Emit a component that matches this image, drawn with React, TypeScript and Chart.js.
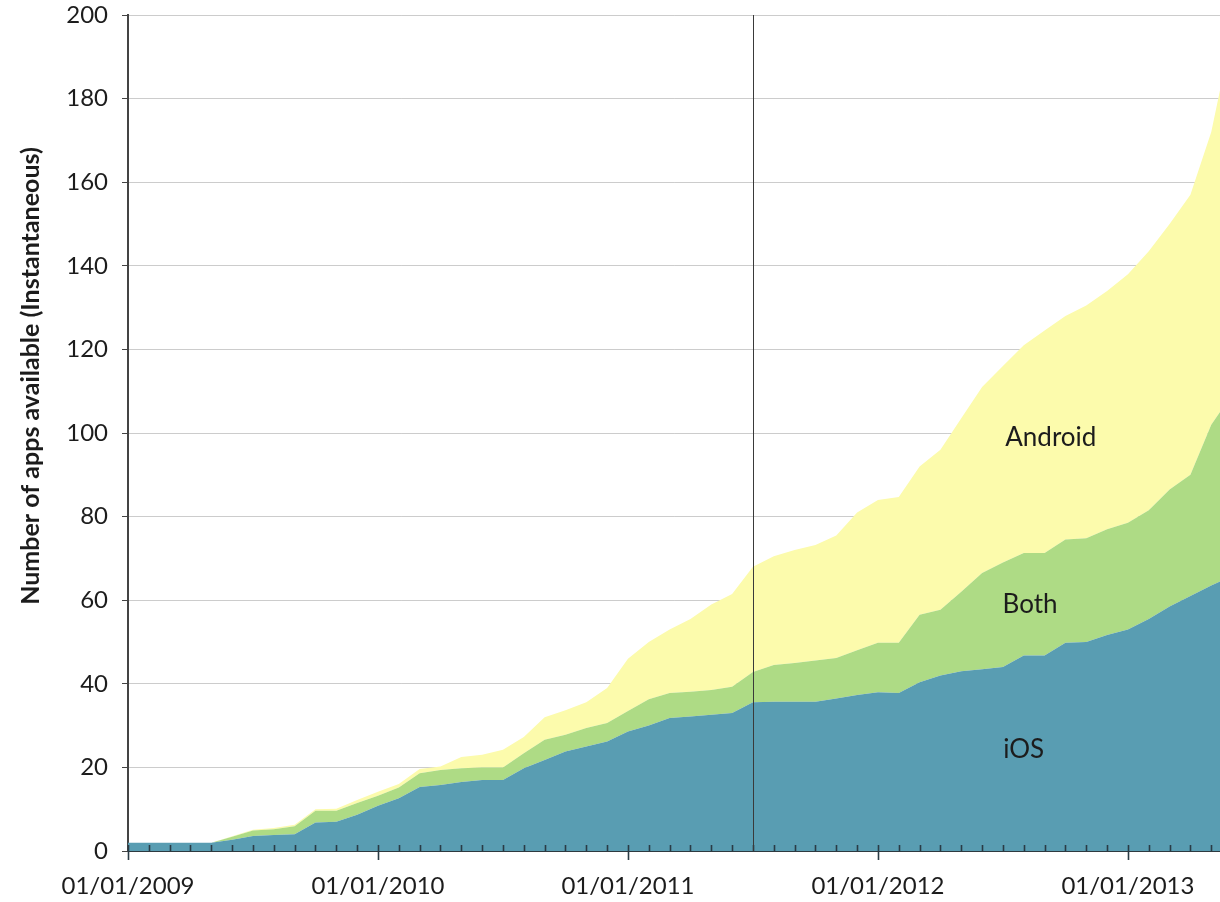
import React, { useEffect, useRef } from 'react';
import { Chart, registerables } from 'chart.js';

Chart.register(...registerables);

// Month index: 0 = Jan 2009
const months = [
  0, 1, 2, 3, 4, 5, 6, 7, 8, 9, 10, 11, 12, 13, 14, 15, 16, 17, 18, 19, 20,
  21, 22, 23, 24, 25, 26, 27, 28, 29, 30, 31, 32, 33, 34, 35, 36, 37, 38, 39,
  40, 41, 42, 43, 44, 45, 46, 47, 48, 49, 50, 51, 52, 52.42,
];

const iosValues = [
  2, 2, 2, 2, 2, 2.7, 3.6, 3.8, 4.0, 6.8, 7.0, 8.7, 10.8, 12.6, 15.3, 15.8,
  16.5, 17, 17, 19.8, 21.8, 23.8, 25, 26.2, 28.6, 30, 31.8, 32.2, 32.6, 33,
  35.6, 35.7, 35.7, 35.7, 36.5, 37.3, 38, 37.8, 40.4, 42, 43, 43.5, 44, 46.8,
  46.8, 49.8, 50, 51.7, 53, 55.5, 58.5, 61, 63.5, 64.5,
];

const bothValues = [
  0, 0, 0, 0, 0, 0.7, 1.3, 1.4, 1.9, 2.8, 2.6, 2.8, 2.4, 2.6, 3.3, 3.6, 3.3,
  3.0, 3.0, 3.6, 4.8, 4.0, 4.4, 4.4, 4.9, 6.3, 6.0, 5.9, 5.9, 6.3, 7.2, 8.8,
  9.3, 9.9, 9.7, 10.7, 11.8, 12, 16.1, 15.7, 19, 23, 25, 24.5, 24.5, 24.7,
  24.8, 25.3, 25.5, 26, 28, 29, 38.5, 40.5,
];

const androidValues = [
  0, 0, 0, 0, 0, 0.1, 0.2, 0.3, 0.4, 0.4, 0.5, 0.7, 1.0, 0.8, 1.0, 0.8, 2.7,
  3.0, 4.2, 3.9, 5.4, 5.9, 6.2, 8.4, 12.5, 13.7, 15.2, 17.4, 20.5, 22.2, 25.2,
  26, 27, 27.6, 29.3, 33, 34.2, 34.9, 35.5, 38.3, 41.5, 44.5, 47, 49.7, 53.2,
  53.5, 55.7, 57, 59.5, 62, 63.5, 67, 70, 77,
];

const seriesNames = ['iOS', 'Both', 'Android'];
const seriesColors = ['#599DB2', '#AEDB85', '#FCFBAC'];

const xTickMonths = [0, 12, 24, 36, 48];
const xTickLabels = ['01/01/2009', '01/01/2010', '01/01/2011', '01/01/2012', '01/01/2013'];
const markerMonth = 30; // 01/07/2011
const yTitle = 'Number of apps available (Instantaneous)';

const X_MAX = 52.42;
const FONT = 'Lato, "Open Sans", sans-serif';

export default function App() {
  const ref = useRef<HTMLCanvasElement>(null);

  useEffect(() => {
    if (!ref.current) return;
    const toPts = (vals: number[]) => months.map((m, i) => ({ x: m, y: vals[i] }));

    const overlay = {
      id: 'overlay',
      afterDraw(chart: any) {
        const { ctx, chartArea, scales } = chart;
        const xs = scales.x;
        const ys = scales.y;
        ctx.save();
        // minor monthly ticks (inside)
        ctx.strokeStyle = '#2a3b45';
        ctx.lineWidth = 1.6;
        for (let m = 1; m <= Math.floor(X_MAX); m++) {
          if (m % 12 === 0) continue;
          const px = Math.round(xs.getPixelForValue(m)) + 0.5;
          ctx.beginPath();
          ctx.moveTo(px, chartArea.bottom);
          ctx.lineTo(px, chartArea.bottom - 6);
          ctx.stroke();
        }
        // major yearly ticks
        for (const m of xTickMonths) {
          const px = Math.round(xs.getPixelForValue(m)) + 0.5;
          ctx.beginPath();
          ctx.moveTo(px, chartArea.bottom - 6);
          ctx.lineTo(px, chartArea.bottom + 9);
          ctx.stroke();
        }
        // vertical marker line
        const mx = Math.round(xs.getPixelForValue(markerMonth)) + 0.5;
        ctx.strokeStyle = '#3a3a3a';
        ctx.lineWidth = 1;
        ctx.beginPath();
        ctx.moveTo(mx, chartArea.top);
        ctx.lineTo(mx, chartArea.bottom);
        ctx.stroke();

        // series labels
        ctx.fillStyle = '#1c1c1c';
        ctx.font = `26px ${FONT}`;
        ctx.textAlign = 'center';
        ctx.textBaseline = 'middle';
        const labelPos = [
          { x: 43.0, y: 24.2 },
          { x: 43.3, y: 58.9 },
          { x: 44.3, y: 98.8 },
        ];
        seriesNames.forEach((name, i) => {
          ctx.fillText(name, xs.getPixelForValue(labelPos[i].x), ys.getPixelForValue(labelPos[i].y));
        });

        // y-axis title
        ctx.translate(31, 376);
        ctx.rotate(-Math.PI / 2);
        ctx.font = `bold 25px ${FONT}`;
        ctx.fillStyle = '#1c1c1c';
        ctx.fillText(yTitle, 0, 0);
        ctx.restore();
      },
    };

    const chart = new Chart(ref.current, {
      type: 'line',
      data: {
        datasets: [
          { label: seriesNames[0], data: toPts(iosValues), backgroundColor: seriesColors[0], fill: 'origin' },
          { label: seriesNames[1], data: toPts(bothValues), backgroundColor: seriesColors[1], fill: '-1' },
          { label: seriesNames[2], data: toPts(androidValues), backgroundColor: seriesColors[2], fill: '-1' },
        ].map((d) => ({ ...d, borderWidth: 0, pointRadius: 0, tension: 0, borderColor: 'rgba(0,0,0,0)' })),
      },
      options: {
        animation: false,
        responsive: false,
        maintainAspectRatio: false,
        layout: { padding: { top: 15, right: 0, left: 0, bottom: 0 } },
        plugins: { legend: { display: false }, tooltip: { enabled: false } },
        elements: { line: { borderWidth: 0 } },
        scales: {
          x: {
            type: 'linear',
            min: 0,
            max: X_MAX,
            grid: { display: false },
            border: { display: true, color: '#2e3a40', width: 2 },
            afterBuildTicks: (s: any) => {
              s.ticks = xTickMonths.map((v) => ({ value: v }));
            },
            afterFit: (s: any) => {
              s.height = 51;
              s.paddingLeft = 0;
              s.paddingRight = 0;
            },
            ticks: {
              autoSkip: false,
              maxRotation: 0,
              padding: 13,
              color: '#1c1c1c',
              font: { family: FONT, size: 24 },
              callback: (v: any) => {
                const i = xTickMonths.indexOf(Number(v));
                return i >= 0 ? xTickLabels[i] : '';
              },
            },
          },
          y: {
            stacked: true,
            min: 0,
            max: 200,
            z: 1,
            grid: {
              color: 'rgba(0,0,0,0.2)',
              lineWidth: 1,
              drawTicks: true,
              tickLength: 6,
              tickColor: '#444',
            },
            border: { display: true, color: '#444', width: 2 },
            afterFit: (s: any) => {
              s.width = 128;
              s.paddingTop = 0;
              s.paddingBottom = 0;
            },
            ticks: {
              stepSize: 20,
              padding: 14,
              color: '#1c1c1c',
              font: { family: FONT, size: 24 },
            },
          },
        },
      },
      plugins: [overlay],
    });
    return () => chart.destroy();
  }, []);

  return (
    <div style={{ position: 'fixed', left: 0, top: 0, width: 1220, height: 902, background: '#fff' }}>
      <canvas ref={ref} width={1220} height={902} style={{ width: 1220, height: 902 }} />
    </div>
  );
}
